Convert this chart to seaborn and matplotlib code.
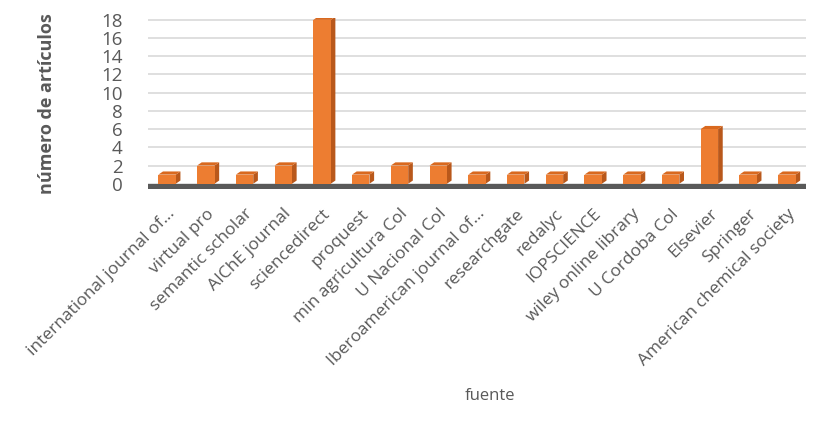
import matplotlib
matplotlib.use("Agg")
from matplotlib import pyplot as plt
from matplotlib.patches import Polygon
import pandas as pd
import seaborn as sns

# data
fuentes = ["international journal of...", "virtual pro", "semantic scholar",
           "AIChE journal", "sciencedirect", "proquest", "min agricultura Col",
           "U Nacional Col", "Iberoamerican journal of...", "researchgate",
           "redalyc", "IOPSCIENCE", "wiley online library", "U Cordoba Col",
           "Elsevier", "Springer", "American chemical society"]
articulos = [1, 2, 1, 2, 18, 1, 2, 2, 1, 1, 1, 1, 1, 1, 6, 1, 1]
y_ticks = list(range(0, 19, 2))

df = pd.DataFrame({"fuente": fuentes, "articulos": articulos})

gray = "#595959"
orange = "#ED7D31"
side = "#B9581B"

sns.set_style("white")
plt.rcParams["font.family"] = ["Open Sans", "DejaVu Sans"]

fig = plt.figure(figsize=(8.16, 4.30), dpi=100)
ax = fig.add_axes([0.181, 0.56, 0.807, 0.398])

ax.axhspan(-0.6, 0, color=gray, zorder=1, lw=0)
for t in y_ticks:
    ax.axhline(t, color="#d9d9d9", lw=1.2, zorder=0)

sns.barplot(data=df, x="fuente", y="articulos", color=orange, width=0.45,
            saturation=1, linewidth=0, ax=ax, zorder=3)

# fake 3d depth: side and top faces from each bar's own geometry
dx, dy = 0.12, 0.35
for p in ax.containers[0]:
    x0, w, h = p.get_x(), p.get_width(), p.get_height()
    ax.add_patch(Polygon([(x0 + w, 0), (x0 + w + dx, dy), (x0 + w + dx, h + dy), (x0 + w, h)],
                         closed=True, color=side, zorder=2.9, lw=0))
    ax.add_patch(Polygon([(x0, h), (x0 + dx, h + dy), (x0 + w + dx, h + dy), (x0 + w, h)],
                         closed=True, color="#D9691F", zorder=2.9, lw=0))

ax.set_ylim(-0.6, 18.2)
ax.set_xlim(-0.5, len(fuentes) - 0.5)
ax.set_yticks(y_ticks)
ax.tick_params(axis="y", labelsize=13.5, labelcolor=gray, length=0, pad=18)
ax.tick_params(axis="x", length=0, pad=12)
ax.set_xticks(range(len(fuentes)))
ax.set_xticklabels(fuentes, rotation=45, ha="right", va="top",
                   rotation_mode="anchor", fontsize=12.5, color=gray)
ax.set_xlabel("fuente", fontsize=12, color=gray)
ax.xaxis.set_label_coords(0.52, -1.16)
ax.set_ylabel("número de artículos", fontsize=13, color=gray,
              fontweight="bold")
ax.yaxis.set_label_coords(-0.14, 0.5)
sns.despine(ax=ax, left=True, bottom=True)

fig.savefig("out.png", dpi=100)
